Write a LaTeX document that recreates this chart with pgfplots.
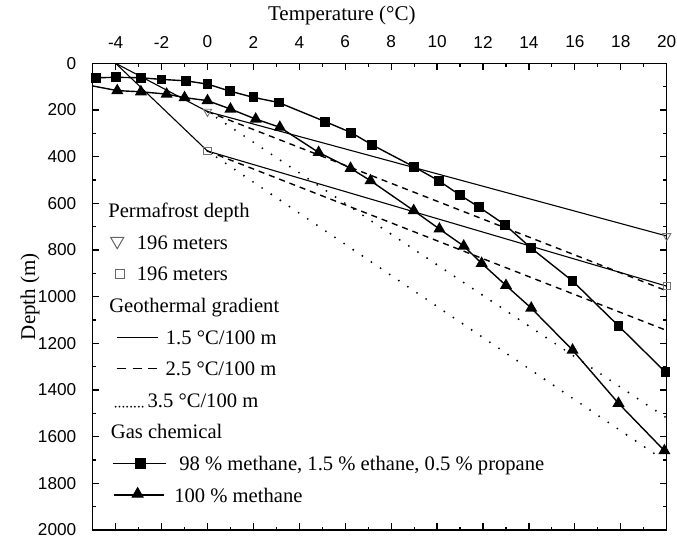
\documentclass[border=0pt]{standalone}
\usepackage{fontspec}
\setmainfont{Liberation Serif}
\newfontfamily\arialfont{Liberation Sans}
\usepackage{pgfplots}
\pgfplotsset{compat=1.18}
\newcommand{\lgfont}{\fontsize{10.3}{12}\selectfont}
\newcommand{\lgbox}{\path[draw=none, fill=none] (0pt,-7.9pt) rectangle (1pt,7.9pt);}
\newcommand{\lgtext}[2]{\node[overlay, anchor=base west, inner sep=0pt, draw=none, fill=none, text=black, font=\lgfont] at (#1,-3.5pt) {#2};}
\begin{document}
\begin{tikzpicture}
\begin{axis}[
  scale only axis, width=287pt, height=233.35pt,
  xmin=-5, xmax=20, ymin=0, ymax=2000, y dir=reverse,
  xtick={-4,-2,...,20}, ytick={0,200,...,2000},
  minor x tick num=1, minor y tick num=1,
  tick align=inside, xtick pos=both, ytick pos=both,
  xticklabel pos=upper, yticklabel pos=left,
  major tick length=3.3pt, minor tick length=1.7pt,
  every tick/.style={black, line width=0.6pt},
  axis line style={line width=0.75pt},
  ticklabel style={font=\arialfont\fontsize{8.6}{10}\selectfont},
  /pgf/number format/assume math mode=true,
  /pgf/number format/set thousands separator={},
  xticklabel style={yshift=4.1pt},
  yticklabel style={xshift=-4.7pt},
  xlabel={Temperature (°C)}, ylabel={Depth (m)},
  label style={font=\fontsize{10.5}{12}\selectfont},
  xlabel style={at={(axis description cs:0.434,1.1035)}, anchor=center},
  ylabel style={at={(axis description cs:-0.1092,0.5)}, anchor=center},
  legend style={at={(axis cs:-4.35,564)}, anchor=north west, draw=none, fill=none,
    inner sep=0pt, outer sep=0pt, row sep=0pt, column sep=0pt, font=\lgfont,
    nodes={inner sep=0pt}},
  legend cell align=left,
]
% permafrost / geothermal gradient lines
\addplot[black, line width=0.55pt, forget plot] coordinates {(-4,0) (0,207) (20,740)};
\addplot[black, line width=0.55pt, forget plot] coordinates {(-4,0) (0,376) (20,955)};
\addplot[black, line width=0.7pt, dash pattern=on 3pt off 2.5pt, forget plot] coordinates {(0,207) (20,975)};
\addplot[black, line width=0.7pt, dash pattern=on 3pt off 2.5pt, forget plot] coordinates {(0,376) (20,1145)};
\addplot[black, line width=1.05pt, line cap=round, dash pattern=on 0pt off 5.5pt, forget plot] coordinates {(0,207) (20,1520)};
\addplot[black, line width=1.05pt, line cap=round, dash pattern=on 0pt off 5.5pt, forget plot] coordinates {(0,376) (19.5,1675)};
% gas chemical curves
\addplot[black, line width=0.7pt, mark=square*, mark size=2.1pt, forget plot] coordinates {
(-4.85,62) (-4,60) (-2.9,62) (-2,69) (-0.95,75) (0,89) (0.97,119) (2,146) (3.1,168)
(5.13,250) (6.26,297) (7.16,349) (8.98,443) (10.07,503) (11,565) (11.84,617)
(12.97,693) (14.1,792) (15.9,933) (17.9,1125) (19.95,1324)};
\addplot[black, line width=0.7pt, forget plot] coordinates {(-5,97) (-3.93,117)};
\addplot[black, line width=0.7pt, mark=triangle*, mark size=2.8pt, forget plot] coordinates {
(-3.93,117) (-2.9,122) (-1.78,132) (-1.0,147) (0,160) (1.0,196) (2.1,239) (3.15,274)
(4.84,382) (6.23,450) (7.1,503) (8.98,631) (10.1,710) (11.16,783) (11.94,857)
(13,952) (14.1,1049) (15.9,1229) (17.9,1457) (19.9,1660)};
% permafrost markers
\addplot[only marks, black!55, line width=0.45pt, mark=triangle, mark size=2.4pt,
  mark options={rotate=180, fill=white}, forget plot] coordinates {(0,207) (20,740)};
\addplot[only marks, black!55, line width=0.45pt, mark=square, mark size=1.8pt,
  mark options={fill=white}, forget plot] coordinates {(0,376) (20,955)};
% legend
\addlegendimage{legend image code/.code={\lgbox\lgtext{0.35pt}{Permafrost depth}}}
\addlegendentry{\mbox{}}
\addlegendimage{legend image code/.code={\lgbox
  \draw[black!60, line width=0.5pt] plot[mark=triangle, mark size=3.8pt, mark options={rotate=180, fill=white}] coordinates {(4.8pt,0.6pt)};
  \lgtext{14.65pt}{196 meters}}}
\addlegendentry{\mbox{}}
\addlegendimage{legend image code/.code={\lgbox
  \draw[black!60, line width=0.5pt] plot[mark=square, mark size=2.3pt, mark options={fill=white}] coordinates {(6.15pt,0pt)};
  \lgtext{14.65pt}{196 meters}}}
\addlegendentry{\mbox{}}
\addlegendimage{legend image code/.code={\lgbox\lgtext{0.85pt}{Geothermal gradient}}}
\addlegendentry{\mbox{}}
\addlegendimage{legend image code/.code={\lgbox
  \draw[black, line width=0.5pt] (4.65pt,0pt) -- (25pt,0pt);
  \lgtext{29.15pt}{1.5 °C/100 m}}}
\addlegendentry{\mbox{}}
\addlegendimage{legend image code/.code={\lgbox
  \draw[black, line width=0.6pt, dash pattern=on 4.5pt off 3.3pt] (4.65pt,0pt) -- (24.75pt,0pt);
  \lgtext{29pt}{2.5 °C/100 m}}}
\addlegendentry{\mbox{}}
\addlegendimage{legend image code/.code={\lgbox
  \draw[black, line width=1.0pt, line cap=round, dash pattern=on 0pt off 1.93pt] (4pt,-3.2pt) -- (17.6pt,-3.2pt);
  \lgtext{20pt}{3.5 °C/100 m}}}
\addlegendentry{\mbox{}}
\addlegendimage{legend image code/.code={\lgbox\lgtext{1.65pt}{Gas chemical}}}
\addlegendentry{\mbox{}}
\addlegendimage{legend image code/.code={\lgbox
  \draw[black, line width=0.65pt] (2.5pt,0pt) -- (29pt,0pt);
  \draw[black] plot[mark=square*, mark size=2.5pt] coordinates {(16.35pt,0pt)};
  \lgtext{35.85pt}{98 \% methane, 1.5 \% ethane, 0.5 \% propane}}}
\addlegendentry{\mbox{}}
\addlegendimage{legend image code/.code={\lgbox
  \draw[black, line width=0.65pt] (3.35pt,0pt) -- (28pt,0pt);
  \draw[black] plot[mark=triangle*, mark size=3.2pt] coordinates {(15pt,0.6pt)};
  \lgtext{33.35pt}{100 \% methane}}}
\addlegendentry{\mbox{}}
\end{axis}
\pgfresetboundingbox
\path (-46.35pt,-6.5pt) rectangle (292.15pt,265pt);
\end{tikzpicture}
\end{document}
